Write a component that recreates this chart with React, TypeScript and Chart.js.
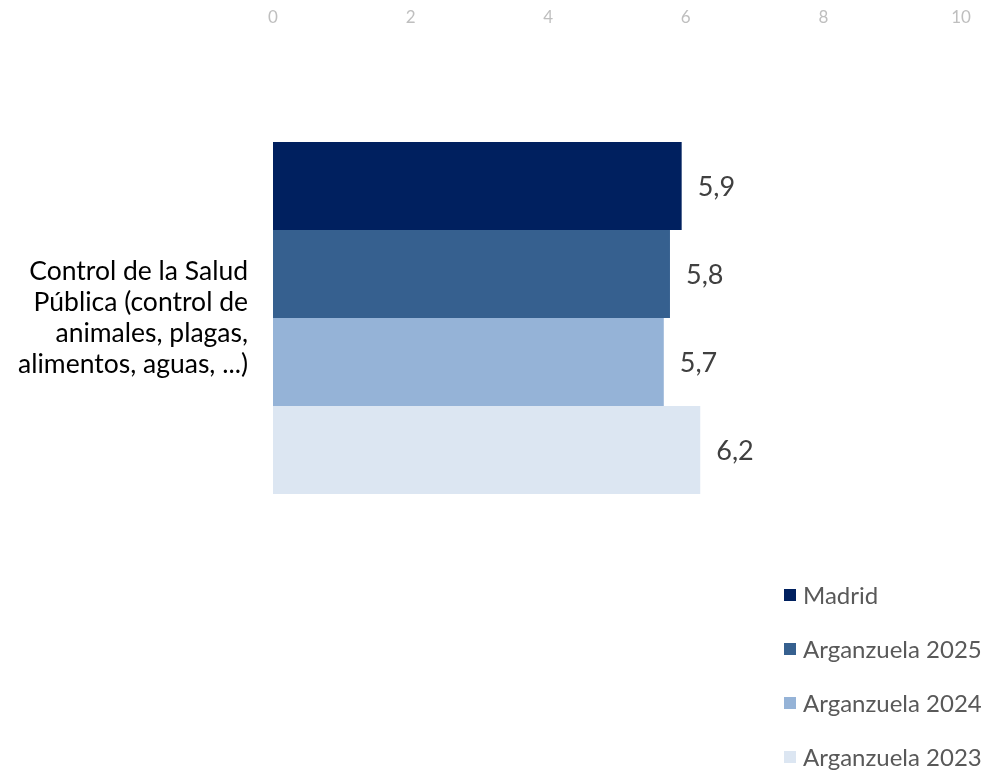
import React, { useEffect, useRef } from "react";
import { Chart, registerables } from "chart.js";

Chart.register(...registerables);

const categories: string[][] = [
  ["Control de la Salud", "Pública (control de", "animales, plagas,", "alimentos, aguas, ...)"],
];
const seriesNames = ["Madrid", "Arganzuela 2025", "Arganzuela 2024", "Arganzuela 2023"];
const madrid = [5.94];
const arg2025 = [5.77];
const arg2024 = [5.68];
const arg2023 = [6.21];
const colors = ["#00205F", "#36608F", "#95B3D7", "#DCE6F2"];

const valueLabels = {
  id: "valueLabels",
  afterDatasetsDraw(chart: any) {
    const ctx = chart.ctx;
    ctx.save();
    ctx.font = "27px Lato";
    ctx.fillStyle = "#404040";
    ctx.textAlign = "left";
    ctx.textBaseline = "middle";
    chart.data.datasets.forEach((ds: any, i: number) => {
      const meta = chart.getDatasetMeta(i);
      meta.data.forEach((bar: any, j: number) => {
        const v = ds.data[j];
        ctx.fillText(Number(v).toFixed(1).replace(".", ","), bar.x + 16, bar.y + 1);
      });
    });
    ctx.restore();
  },
};

const customLegend = {
  id: "customLegend",
  afterDraw(chart: any) {
    const ctx = chart.ctx;
    ctx.save();
    ctx.font = "24px Lato";
    ctx.textBaseline = "middle";
    ctx.textAlign = "left";
    const x0 = 784;
    const y0 = 595;
    const step = 54;
    chart.data.datasets.forEach((ds: any, i: number) => {
      const y = y0 + i * step;
      ctx.fillStyle = ds.backgroundColor;
      ctx.fillRect(x0, y - 6, 12, 12);
      ctx.fillStyle = "#595959";
      ctx.fillText(ds.label, x0 + 19, y + 1);
    });
    ctx.restore();
  },
};

export default function App() {
  const ref = useRef<HTMLCanvasElement>(null);
  useEffect(() => {
    const data = [madrid, arg2025, arg2024, arg2023];
    const chart = new Chart(ref.current as HTMLCanvasElement, {
      type: "bar",
      data: {
        labels: categories as any,
        datasets: seriesNames.map((name, i) => ({
          label: name,
          data: data[i],
          backgroundColor: colors[i],
          borderWidth: 0,
          categoryPercentage: 0.8,
          barPercentage: 1.0,
        })),
      },
      options: {
        indexAxis: "y",
        animation: false,
        responsive: false,
        maintainAspectRatio: false,
        layout: { padding: { top: 8, bottom: 232, left: 0, right: 23 } },
        plugins: {
          legend: { display: false },
          tooltip: { enabled: false },
        },
        scales: {
          x: {
            position: "top",
            min: 0,
            max: 10,
            ticks: {
              stepSize: 2,
              color: "#BFBFBF",
              font: { family: "Lato", size: 17, lineHeight: 1.2 },
              padding: 70,
            },
            grid: { display: false, drawTicks: false },
            border: { display: false },
            afterFit(scale: any) {
              scale.height = 90;
              scale.paddingLeft = 0;
              scale.paddingRight = 0;
            },
          },
          y: {
            ticks: {
              color: "#000000",
              font: { family: "Lato", size: 26.5, lineHeight: 1.16 },
              padding: 25,
            },
            grid: { display: false, drawTicks: false },
            border: { display: false },
            afterFit(scale: any) {
              scale.width = 273;
              scale.paddingTop = 0;
              scale.paddingBottom = 0;
            },
          },
        },
      },
      plugins: [valueLabels, customLegend],
    });
    return () => chart.destroy();
  }, []);
  return (
    <div style={{ position: "absolute", left: 0, top: 0, width: 984, height: 770, background: "#fff" }}>
      <canvas ref={ref} width={984} height={770} style={{ width: 984, height: 770 }} />
    </div>
  );
}
